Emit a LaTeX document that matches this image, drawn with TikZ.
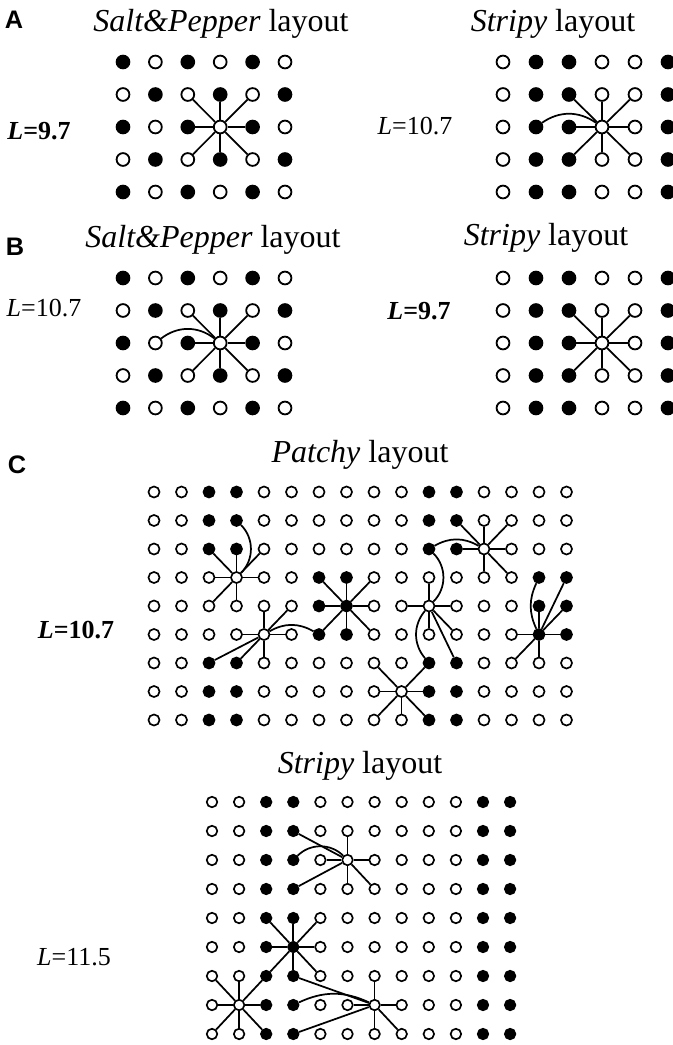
\documentclass[tikz,border=0pt]{standalone}
\usepackage{fontspec}
\setmainfont{Liberation Serif}
\setsansfont{Liberation Sans}
\tikzset{
  dot/.style={circle,draw,line width=1.35pt,inner sep=0pt,minimum size=9.6pt},
  open dot/.style={dot,fill=white},
  full dot/.style={dot,fill=black},
  link/.style={line width=1.3pt},
  title/.style={anchor=base,font=\fontsize{24}{28}\selectfont},
  score/.style={font=\fontsize{19.5}{23}\selectfont},
  panel/.style={font=\fontsize{19}{22}\selectfont\sffamily\bfseries}
}
\begin{document}
\begin{tikzpicture}[x=0.75pt,y=-0.75pt]
  \useasboundingbox (0,0) rectangle (673,1045);

  %draw sites of panels A and B
  \foreach \p/\y in {a/62,b/278}{
    \foreach \c in {0,...,5}
      \foreach \r in {0,...,4}{
        \pgfmathtruncatemacro\k{mod(\c+\r,2)}
        \ifnum\k=0 \def\s{full dot}\else\def\s{open dot}\fi
        \node[\s] (\p l-\c-\r) at (123+32.4*\c,\y+32.5*\r) {};
      }
    \foreach \c/\s in {0/open dot,1/full dot,2/full dot,3/open dot,4/open dot,5/full dot}
      \foreach \r in {0,...,4}
        \node[\s] (\p r-\c-\r) at (503+33*\c,\y+32.5*\r) {};
  }

  %draw links of panels A and B
  \foreach \g in {al,ar,bl,br}
    \foreach \n in {2-1,3-1,4-1,2-2,4-2,2-3,3-3,4-3}
      \draw[link] (\g-3-2) -- (\g-\n);
  \draw[link] (ar-1-2) to[bend left=35] (ar-3-2);
  \draw[link] (bl-1-2) to[bend left=38] (bl-3-2);

  \begin{scope}[dot/.append style={minimum size=8.3pt,line width=1.25pt}]
  %draw patchy sites
  \foreach \c in {0,...,15}
    \foreach \r in {0,...,8}{
      \pgfmathtruncatemacro\k{mod(div(\c,2),2)*(1-mod(div(\c,4)+div(\r,3),2))}
      \ifnum\k=1 \def\s{full dot}\else\def\s{open dot}\fi
      \node[\s] (p-\c-\r) at (154+27.5*\c,492+28.5*\r) {};
    }
  \end{scope}

  %draw patchy links
  \foreach \n in {3-2,2-2,4-2,2-3,4-3,2-4,3-4}
    \draw[link] (p-3-3) -- (p-\n);
  \draw[link] (p-3-1) to[bend left=45] (p-3-3);
  \foreach \n in {3-5,4-4,5-4,5-5,4-6,3-6,2-6}
    \draw[link] (p-4-5) -- (p-\n);
  \draw[link] (p-4-5) to[bend left=30] (p-6-5);
  \foreach \n in {6-3,7-3,8-3,6-4,8-4,6-5,7-5,8-5}
    \draw[link] (p-7-4) -- (p-\n);
  \foreach \n in {9-4,11-4,10-3,10-5,11-5,11-6}
    \draw[link] (p-10-4) -- (p-\n);
  \draw[link] (p-10-2) to[bend left=45] (p-10-4);
  \draw[link] (p-10-4) to[bend right=40] (p-10-6);
  \foreach \n in {11-1,12-1,13-1,11-2,13-2,12-3,13-3}
    \draw[link] (p-12-2) -- (p-\n);
  \draw[link] (p-10-2) to[bend left=30] (p-12-2);
  \foreach \n in {13-5,15-5,14-4,15-4,13-6,14-6,15-3}
    \draw[link] (p-14-5) -- (p-\n);
  \draw[link] (p-14-3) to[bend right=25] (p-14-5);
  \foreach \n in {8-6,10-6,8-7,10-7,8-8,9-8,10-8}
    \draw[link] (p-9-7) -- (p-\n);

  \begin{scope}[dot/.append style={minimum size=7.9pt,line width=1.25pt}]
  %draw stripy sites
  \foreach \c in {0,...,11}
    \foreach \r in {0,...,8}{
      \pgfmathtruncatemacro\k{mod(div(\c,2),4)==1}
      \ifnum\k=1 \def\s{full dot}\else\def\s{open dot}\fi
      \node[\s] (s-\c-\r) at (212+27.1*\c,802+29*\r) {};
    }
  \end{scope}

  %draw stripy links
  \foreach \n in {5-1,4-2,6-2,5-3,6-3,3-1,3-3}
    \draw[link] (s-5-2) -- (s-\n);
  \draw[link] (s-3-2) to[bend left=45] (s-5-2);
  \foreach \n in {2-4,3-4,4-4,2-5,4-5,2-6,3-6,4-6}
    \draw[link] (s-3-5) -- (s-\n);
  \foreach \n in {0-6,1-6,2-6,0-7,2-7,0-8,1-8,2-8}
    \draw[link] (s-1-7) -- (s-\n);
  \foreach \n in {6-6,5-7,7-7,6-8,7-8,3-6,3-8}
    \draw[link] (s-6-7) -- (s-\n);
  \draw[link] (s-3-7) to[bend left=25] (s-6-7);

  %draw labels
  \node[panel] (pa) at (14,19.5) {A};
  \node[title] (ta1) at (221,32) {\textit{Salt\&Pepper} layout};
  \node[title] (ta2) at (553,32) {\textit{Stripy} layout};
  \node[score] (la1) at (39,131) {\textbf{\textit{L}=9.7}};
  \node[score] (la2) at (415,126) {\textit{L}=10.7};

  \node[panel] (pb) at (15,247) {B};
  \node[title] (tb1) at (213,247) {\textit{Salt\&Pepper} layout};
  \node[title] (tb2) at (546,245) {\textit{Stripy} layout};
  \node[score] (lb1) at (44,308) {\textit{L}=10.7};
  \node[score] (lb2) at (419,311) {\textbf{\textit{L}=9.7}};

  \node[panel] (pc) at (17,465) {C};
  \node[title] (tc1) at (360,462) {\textit{Patchy} layout};
  \node[score] (lc1) at (76,630) {\textbf{\textit{L}=10.7}};
  \node[title] (tc2) at (360,773) {\textit{Stripy} layout};
  \node[score] (lc2) at (74,957) {\textit{L}=11.5};
\end{tikzpicture}
\end{document}
